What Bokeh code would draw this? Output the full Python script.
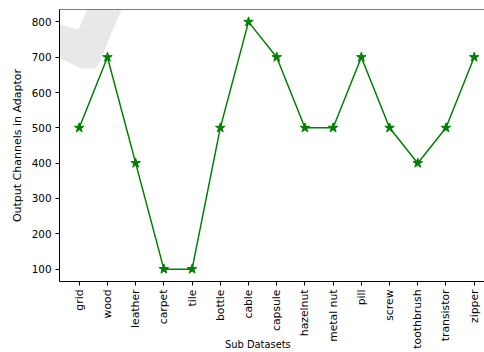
import math
from bokeh.plotting import figure
from bokeh.models import Span, PolyAnnotation, FixedTicker, Range1d
from bokeh.embed import file_html
from bokeh.resources import INLINE

categories = ["grid", "wood", "leather", "carpet", "tile", "bottle", "cable",
              "capsule", "hazelnut", "metal nut", "pill", "screw", "toothbrush",
              "transistor", "zipper"]
channels = [500, 700, 400, 100, 100, 500, 800, 700, 500, 500, 700, 500, 400, 500, 700]
y_ticks = [100, 200, 300, 400, 500, 600, 700, 800]

x_label = "Sub Datasets"
y_label = "Output Channels in Adaptor"

xs = list(range(len(categories)))
FONT = "DejaVu Sans"

p = figure(width=484, height=352, output_backend="svg", toolbar_location=None,
           x_range=Range1d(-0.7, 14.366), y_range=Range1d(65, 835),
           min_border_left=59, min_border_right=0, min_border_top=9,
           min_border_bottom=71)
p.outline_line_color = None
p.xgrid.visible = False
p.ygrid.visible = False
p.background_fill_color = "white"
p.border_fill_color = "white"

# faint grey watermark stroke in the upper-left corner
wm = PolyAnnotation(
    xs=[0, 30, 55, 78, 84, 90, 125, 112, 100, 95, 80, 60, 35, 15, 0],
    ys=[10, 17, 23, 29, 15, 0, 0, 30, 60, 68, 68, 58, 45, 37, 32],
    xs_units="canvas", ys_units="canvas",
    fill_color="#e8e8e8", fill_alpha=1.0, line_color=None, level="underlay")
p.add_layout(wm)

p.line(xs, channels, line_color="green", line_width=1.5)
p.scatter(xs, channels, marker="star", size=10, fill_color="green",
          line_color="green")

xa = p.xaxis[0]
xa.ticker = FixedTicker(ticks=xs)
xa.major_label_overrides = {i: c for i, c in enumerate(categories)}
xa.major_label_orientation = math.pi / 2
xa.minor_tick_line_color = None
xa.major_tick_in = 0
xa.major_tick_out = 4
xa.major_label_standoff = 4
xa.major_label_text_font = FONT
xa.major_label_text_font_size = "10.8px"
xa.major_label_text_color = "black"
xa.axis_line_color = "black"
xa.major_tick_line_color = "black"
xa.axis_label = x_label + "\u00a0" * 9
xa.axis_label_text_font = FONT
xa.axis_label_text_font_size = "9.9px"
xa.axis_label_text_font_style = "normal"
xa.axis_label_text_color = "black"
xa.axis_label_standoff = -13

ya = p.yaxis[0]
ya.ticker = FixedTicker(ticks=y_ticks)
ya.minor_tick_line_color = None
ya.major_tick_in = 0
ya.major_tick_out = 4
ya.major_label_standoff = 4
ya.major_label_text_font = FONT
ya.major_label_text_font_size = "10.4px"
ya.major_label_text_color = "black"
ya.axis_line_color = "black"
ya.major_tick_line_color = "black"
ya.axis_label = y_label
ya.axis_label_text_font = FONT
ya.axis_label_text_font_size = "11px"
ya.axis_label_text_font_style = "normal"
ya.axis_label_text_color = "black"
ya.axis_label_standoff = 5

top = Span(location=835, dimension="width", line_color="black", line_width=1)
p.add_layout(top)

open("out.html", "w").write(file_html(p, INLINE))
